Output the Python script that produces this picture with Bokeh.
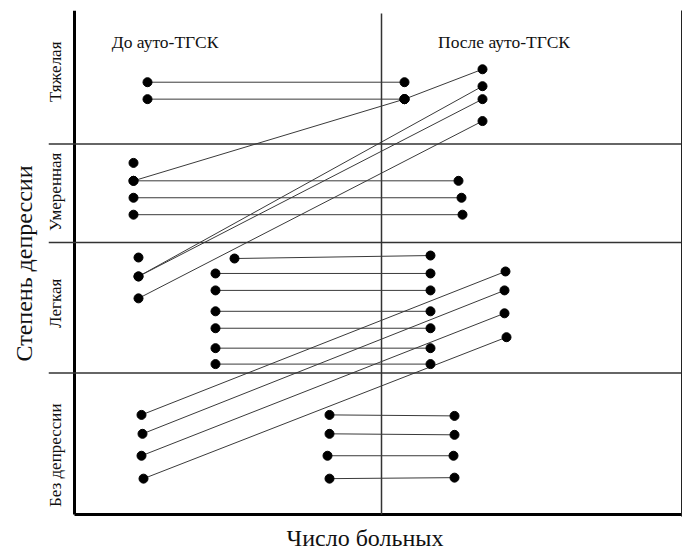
import math
from bokeh.plotting import figure
from bokeh.models import Range1d, FixedTicker, LinearAxis, Span, Label, ColumnDataSource
from bokeh.embed import file_html
from bokeh.resources import INLINE

# ---- data (arbitrary diagram units: x = "Число больных", y = depression scale) ----
levels = ["Тяжелая", "Умеренная", "Легкая", "Без депрессии"]
level_label_y = [444.5, 324, 212, 59.5]
level_label_x = -19
level_bounds = [142, 273, 372]
divider_x = 307
x_max = 607
y_max = 506
header_texts = ["До ауто-ТГСК", "После ауто-ТГСК"]
header_x = [90.5, 429.5]
header_y = 474

# each patient: position before and after auto-HSCT
before_x = [73, 73, 59, 330, 59, 59, 59, 64, 64, 64,
            160, 141, 141, 141, 141, 141, 141,
            67, 68, 67, 69, 255, 255, 253, 255]
before_y = [434, 417, 335, 417, 335, 318, 301, 239, 239, 217,
            257, 242, 225, 204, 187, 167, 151,
            100, 81, 59, 36, 100, 81, 59, 36]
after_x = [330, 330, 330, 408, 384, 387, 388, 408, 408, 408,
           356, 356, 356, 356, 356, 356, 356,
           431, 430, 430, 432, 380, 380, 379, 380]
after_y = [434, 417, 417, 447, 335, 318, 301, 430, 417, 395,
           260, 242, 225, 204, 187, 167, 151,
           244, 225, 202, 178, 99, 80, 59, 37]
lone_x = [59, 64]
lone_y = [353, 258]

FONT = "Liberation Serif"

p = figure(width=682, height=553, x_range=Range1d(-26, x_max), y_range=Range1d(-2, y_max),
           output_backend="svg", toolbar_location=None,
           min_border_left=48, min_border_right=1, min_border_top=10, min_border_bottom=35)
p.grid.visible = False
p.outline_line_color = None

def bare(axis):
    axis.ticker = FixedTicker(ticks=[])
    axis.axis_line_color = None
    axis.major_tick_out = 0
    axis.major_tick_in = 0
    axis.minor_tick_out = 0
    axis.minor_tick_in = 0
    axis.major_label_standoff = 0
    axis.axis_label_text_font = FONT
    axis.axis_label_text_font_size = "24px"
    axis.axis_label_text_font_style = "normal"
    axis.axis_label_text_color = "#111111"

ya = p.yaxis[0]
bare(ya)
ya.axis_label = "Степень депрессии"
ya.axis_label_standoff = 12

xa = p.xaxis[0]
bare(xa)
xa.axis_label = "Число больных"
xa.axis_label_standoff = 8

ra = LinearAxis(ticker=FixedTicker(ticks=[]), axis_line_width=1, axis_line_color="#222222",
                major_tick_out=0, major_tick_in=0, minor_tick_out=0, minor_tick_in=0,
                major_label_standoff=0)
p.add_layout(ra, "right")

# band dividers across the full width (they overhang the left axis)
for b in level_bounds:
    p.add_layout(Span(location=b, dimension="width", line_color="#333333", line_width=1.5))

# thick left and bottom axis lines
p.segment(x0=[0, 0], y0=[0, 0], x1=[0, x_max], y1=[y_max, 0], line_color="black", line_width=3)
# vertical divider between "before" and "after"
p.segment(x0=[divider_x], y0=[0], x1=[divider_x], y1=[503], line_color="#333333", line_width=1.5)

src = ColumnDataSource(dict(x0=before_x, y0=before_y, x1=after_x, y1=after_y))
p.segment(x0="x0", y0="y0", x1="x1", y1="y1", source=src, line_color="#3a3a3a", line_width=1)

dots_x = before_x + after_x + lone_x
dots_y = before_y + after_y + lone_y
p.scatter(x=dots_x, y=dots_y, size=9, color="black")

for t, hx in zip(header_texts, header_x):
    p.add_layout(Label(x=hx, y=header_y, text=t, text_font=FONT, text_font_size="17.5px",
                       text_align="center", text_baseline="middle", text_color="#111111"))

for t, ly in zip(levels, level_label_y):
    p.add_layout(Label(x=level_label_x, y=ly, text=t, text_font=FONT, text_font_size="17px",
                       angle=math.pi / 2, text_align="center", text_baseline="middle",
                       text_color="#111111"))

open("out.html", "w").write(file_html(p, INLINE))
